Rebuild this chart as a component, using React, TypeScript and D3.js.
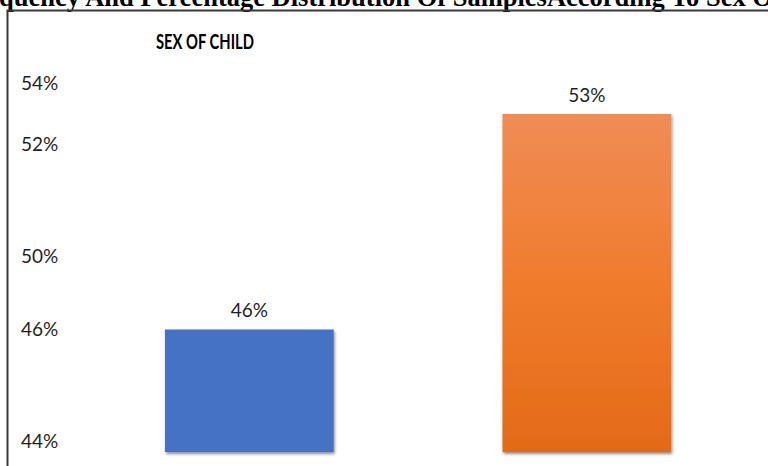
import React, { useEffect, useRef } from "react";
import * as d3 from "d3";

// ---- data ----
const pageTitle = "Frequency And Percentage Distribution Of SamplesAccording To Sex Of Child";
const chartTitle = "SEX OF CHILD";
const categories = ["Male", "Female"];
const values = [46, 53];
const valueLabels = ["46%", "53%"];
const barColors = ["#4472C4", "#ED7D31"];
const tickValues = [44, 46, 50, 52, 54];
const tickLabels = ["44%", "46%", "50%", "52%", "54%"];

// ---- layout ----
const W = 768;
const H = 466;
// the source axis is not evenly spaced: rows where each tick label sits
const axisRows = [441, 329.5, 256.5, 144.5, 83.5];
const plotBottom = 452;
const axisFloor = 43.82;

export default function App() {
  const ref = useRef<SVGSVGElement | null>(null);

  useEffect(() => {
    const svg = d3.select(ref.current);
    svg.selectAll("*").remove();

    const defs = svg.append("defs");
    const grad = defs
      .append("linearGradient")
      .attr("id", "orangeGrad")
      .attr("x1", 0)
      .attr("y1", 0)
      .attr("x2", 0)
      .attr("y2", 1);
    grad.append("stop").attr("offset", "0%").attr("stop-color", "#F08C55");
    grad.append("stop").attr("offset", "50%").attr("stop-color", "#F07C2C");
    grad.append("stop").attr("offset", "100%").attr("stop-color", "#E36A18");

    const filt = defs
      .append("filter")
      .attr("id", "shadow")
      .attr("x", "-10%")
      .attr("y", "-10%")
      .attr("width", "125%")
      .attr("height", "125%");
    filt
      .append("feDropShadow")
      .attr("dx", 1)
      .attr("dy", 2)
      .attr("stdDeviation", 1.8)
      .attr("flood-color", "#000")
      .attr("flood-opacity", 0.45);

    svg.append("rect").attr("width", W).attr("height", H).attr("fill", "#fff");

    // page title (cut off at the top, left and right edges, as in the source)
    const titleSize = 26.5;
    const probe = svg
      .append("text")
      .attr("font-family", "'Liberation Serif', 'Times New Roman', serif")
      .attr("font-weight", "bold")
      .attr("font-size", titleSize)
      .text("Fre");
    const preW = (probe.node() as SVGTextElement).getComputedTextLength();
    probe.remove();
    svg
      .append("text")
      .attr("x", -preW - 1)
      .attr("y", 6)
      .attr("font-family", "'Liberation Serif', 'Times New Roman', serif")
      .attr("font-weight", "bold")
      .attr("font-size", titleSize)
      .attr("fill", "#000")
      .text(pageTitle);

    // frame
    svg
      .append("path")
      .attr("d", `M7.5,${H} L7.5,10.5 L${W},10.5`)
      .attr("fill", "none")
      .attr("stroke", "#3a3a3a")
      .attr("stroke-width", 2);

    // chart title
    svg
      .append("text")
      .attr("x", 156)
      .attr("y", 49)
      .attr("font-family", "Lato, 'Open Sans', sans-serif")
      .attr("font-weight", "bold")
      .attr("font-size", 21)
      .attr("textLength", 98)
      .attr("lengthAdjust", "spacingAndGlyphs")
      .attr("fill", "#000")
      .text(chartTitle);

    // scales
    const y = d3
      .scaleLinear()
      .domain([axisFloor, ...tickValues])
      .range([plotBottom, ...axisRows]);
    const x = d3
      .scaleBand<string>()
      .domain(categories)
      .range([80.6, 755.6])
      .paddingInner(0.5)
      .paddingOuter(0.25);

    // tick labels
    svg
      .append("g")
      .selectAll("text")
      .data(tickValues)
      .join("text")
      .attr("x", 21)
      .attr("y", (d) => y(d))
      .attr("dy", "0.36em")
      .attr("font-family", "Lato, 'Open Sans', sans-serif")
      .attr("font-size", 19)
      .attr("fill", "#1f1f1f")
      .text((_, i) => tickLabels[i]);

    // bars
    const data = categories.map((c, i) => ({ c, v: values[i], label: valueLabels[i], i }));
    svg
      .append("g")
      .selectAll("rect")
      .data(data)
      .join("rect")
      .attr("x", (d) => x(d.c)!)
      .attr("y", (d) => y(d.v))
      .attr("width", x.bandwidth())
      .attr("height", (d) => y(axisFloor) - y(d.v))
      .attr("fill", (d) => (d.i === 1 ? "url(#orangeGrad)" : barColors[d.i]))
      .attr("filter", "url(#shadow)");

    // value labels
    svg
      .append("g")
      .selectAll("text")
      .data(data)
      .join("text")
      .attr("x", (d) => x(d.c)! + x.bandwidth() / 2)
      .attr("y", (d) => y(d.v) - 19)
      .attr("dy", "0.36em")
      .attr("text-anchor", "middle")
      .attr("font-family", "Lato, 'Open Sans', sans-serif")
      .attr("font-size", 19)
      .attr("fill", "#1f1f1f")
      .text((d) => d.label);
  }, []);

  return (
    <svg
      ref={ref}
      width={W}
      height={H}
      style={{ position: "absolute", left: 0, top: 0, display: "block" }}
    />
  );
}
